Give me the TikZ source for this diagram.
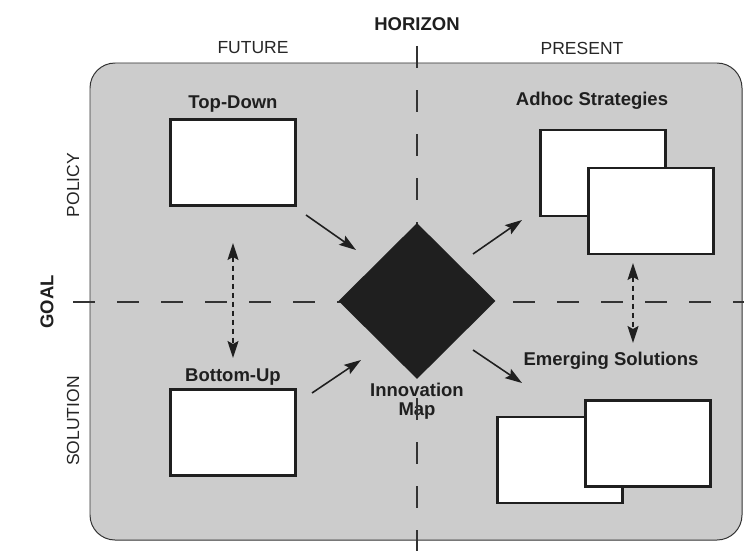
\documentclass[tikz,border=0pt]{standalone}
\usepackage{fontspec}
\setmainfont{Liberation Sans}
\usetikzlibrary{arrows.meta,shapes.geometric}
\tikzset{
	whitebox/.style={draw=black!88, fill=white, line width=1.05mm, minimum width=125pt, minimum height=86pt, inner sep=0pt},
	boldlabel/.style={text=black!88, font=\fontsize{18.5}{19}\selectfont\bfseries, align=center, inner sep=0pt},
	axislabel/.style={text=black!85, font=\fontsize{17.5}{19}\selectfont, inner sep=0pt},
	flowarrow/.style={draw=black!88, line width=0.55mm, -{Stealth[length=17pt,width=11pt,inset=3pt]}},
	linkarrow/.style={draw=black!88, line width=0.55mm, dash pattern=on 5pt off 4pt, {Stealth[length=17pt,width=11pt,inset=3pt]}-{Stealth[length=17pt,width=11pt,inset=3pt]}},
	axisline/.style={draw=black!80, line width=0.45mm, dash pattern=on 22pt off 22pt}
}
\begin{document}
\begin{tikzpicture}[x=1pt, y=-1pt]
			%%%%% START %%%%%
			\useasboundingbox (0, 0) rectangle (744, 551);
			
			\draw[fill=black!20, draw=black!80, line width=0.35mm, rounded corners=25pt] (90, 63) rectangle (742, 540);
			
			\node[axislabel] (future) at (253, 48) {FUTURE};
			\node[axislabel] (present) at (582, 48) {PRESENT};
			\node[boldlabel] (horizon) at (417, 24) {HORIZON};
			\node[axislabel, rotate=90] (policy) at (73, 185) {POLICY};
			\node[boldlabel, rotate=90] (goal) at (47, 302) {GOAL};
			\node[axislabel, rotate=90] (solution) at (73, 421) {SOLUTION};
			
			\coordinate (hstart) at (73, 302);
			\coordinate (hend) at (744, 302);
			\coordinate (vstart) at (417, 46);
			\coordinate (vend) at (417, 551);
			\draw[axisline] (hstart) -- (hend);
			
			\node[boldlabel] (innolabel) at (417, 401) {Innovation\\Map};
			\draw[axisline] (vstart) -- (vend);
			
			\node[diamond, aspect=1, fill=black!88, minimum width=157pt, minimum height=156pt, inner sep=0pt] (map) at (417, 301) {};
			
			% left column
			\node[boldlabel] (toplabel) at (233, 104) {Top-Down};
			\node[whitebox] (topdown) at (233, 162.5) {};
			\node[boldlabel] (bottomlabel) at (233, 377) {Bottom-Up};
			\node[whitebox] (bottomup) at (233, 432.5) {};
			
			% right column
			\node[boldlabel] (adhoclabel) at (592, 101) {Adhoc Strategies};
			\node[whitebox] (adhocA) at (603, 173) {};
			\node[whitebox] (adhocB) at (650.5, 211) {};
			\node[boldlabel] (emerglabel) at (611, 361) {Emerging Solutions};
			\node[whitebox] (emergA) at (560, 460) {};
			\node[whitebox] (emergB) at (648, 443.5) {};
			
			% arrows
			\coordinate (tdout) at (306, 215);
			\coordinate (tdin) at (356, 250);
			\coordinate (buout) at (312, 393);
			\coordinate (buin) at (361, 360);
			\coordinate (adout) at (473, 254);
			\coordinate (adin) at (522, 220);
			\coordinate (emout) at (473, 350);
			\coordinate (emin) at (522, 383);
			\draw[flowarrow] (tdout) -- (tdin);
			\draw[flowarrow] (buout) -- (buin);
			\draw[flowarrow] (adout) -- (adin);
			\draw[flowarrow] (emout) -- (emin);
			
			\coordinate (leftup) at (233, 243);
			\coordinate (leftdown) at (233, 358);
			\coordinate (rightup) at (633, 263);
			\coordinate (rightdown) at (633, 343);
			\draw[linkarrow] (leftup) -- (leftdown);
			\draw[linkarrow] (rightup) -- (rightdown);
			
			%%%%% END %%%%%
\end{tikzpicture}
\end{document}
